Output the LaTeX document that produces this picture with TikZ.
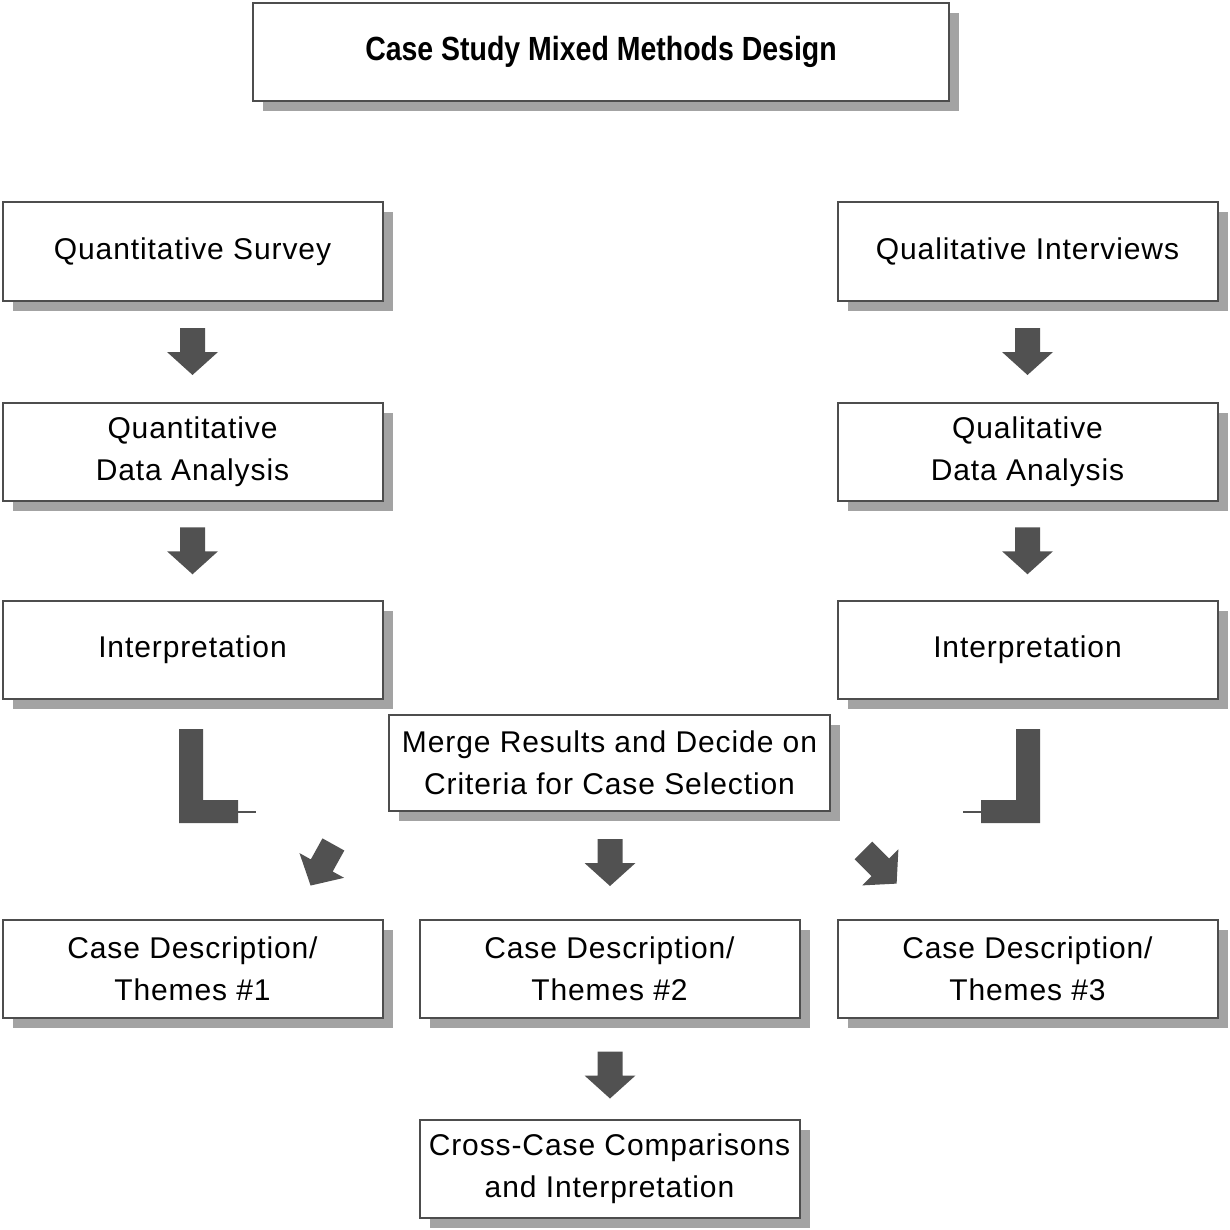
\documentclass[tikz,border=0pt]{standalone}
\usepackage{fontspec}
\setmainfont{Liberation Sans}[LetterSpace=3]
\newfontfamily\titlefont{Liberation Sans}[FakeStretch=0.85]
\usepackage{tikz}
\usetikzlibrary{%
	calc,%
	shadows
}

\definecolor{boxgray}{HTML}{4D4D4D}
\definecolor{shadowgray}{HTML}{A3A3A3}
\definecolor{arrowgray}{HTML}{515151}

\tikzset{
	box/.style={draw=boxgray, line width=2pt, fill=white,
		minimum width=380pt, minimum height=98pt, inner sep=0pt, align=center,
		font=\fontsize{30}{42}\selectfont,
		drop shadow={shadow xshift=10pt, shadow yshift=-10pt, fill=shadowgray, opacity=1}},
	blockarrow/.pic={
		\fill[arrowgray] (-12.5,-23.5) -- (12.5,-23.5) -- (12.5,0.5) -- (25.5,0.5)
			-- (0,23.5) -- (-25.5,0.5) -- (-12.5,0.5) -- cycle;
	}
}

\begin{document}
\begin{tikzpicture}[x=1pt, y=-1pt]
				\useasboundingbox (0,0) rectangle (1230,1230);
				
				% Title
				\node[box, minimum width=696pt, font=\titlefont\bfseries\fontsize{33.5}{40}\selectfont] (title) at (601,52) {Case Study Mixed Methods Design};
				
				% Quantitative strand
				\node[box] (qsurvey) at (192.5,251.5) {Quantitative Survey};
				\node[box] (qanalysis) at (192.5,451.5) {Quantitative\\Data Analysis};
				\node[box] (qinterp) at (192.5,650) {Interpretation};
				
				% Qualitative strand
				\node[box] (lint) at (1027.5,251.5) {Qualitative Interviews};
				\node[box] (lanalysis) at (1027.5,451.5) {Qualitative\\Data Analysis};
				\node[box] (linterp) at (1027.5,650) {Interpretation};
				
				% Merge and cases
				\node[box, minimum width=441pt, minimum height=96pt] (merge) at (609.5,763) {Merge Results and Decide on\\Criteria for Case Selection};
				\node[box] (case1) at (192.5,968.5) {Case Description/\\Themes \#1};
				\node[box] (case2) at (609.5,968.5) {Case Description/\\Themes \#2};
				\node[box] (case3) at (1027.5,968.5) {Case Description/\\Themes \#3};
				\node[box] (cross) at (609.5,1168.5) {Cross-Case Comparisons\\and Interpretation};
				
				% Down arrows
				\pic at ($(qsurvey.south)!0.5!(qanalysis.north)$) {blockarrow};
				\pic at ($(qanalysis.south)!0.5!(qinterp.north)$) {blockarrow};
				\pic at ($(lint.south)!0.5!(lanalysis.north)$) {blockarrow};
				\pic at ($(lanalysis.south)!0.5!(linterp.north)$) {blockarrow};
				\pic at (610,862.5) {blockarrow};
				\pic at (610,1075) {blockarrow};
				
				% Diagonal arrows
				\pic[rotate=-29] at (322,865) {blockarrow};
				\pic[rotate=45] at (880,867) {blockarrow};
				
				% Elbows
				\fill[arrowgray] (179,729) -- (203,729) -- (203,800) -- (238,800) -- (238,823) -- (179,823) -- cycle;
				\draw[arrowgray, line width=2pt] (238,812) -- (256,812);
				\fill[arrowgray] (1040,729) -- (1016,729) -- (1016,800) -- (981,800) -- (981,823) -- (1040,823) -- cycle;
				\draw[arrowgray, line width=2pt] (981,812) -- (963,812);
			\end{tikzpicture}
\end{document}
